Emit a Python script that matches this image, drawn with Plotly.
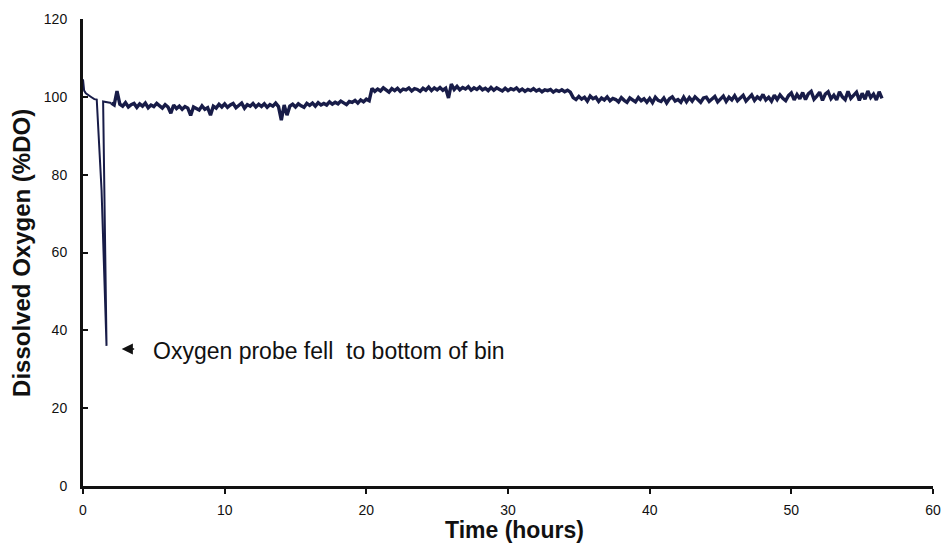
import plotly.graph_objects as go

# Probe record: first hour plus the moment the probe dropped to the bin floor
lead_hours = [0.0, 0.08, 0.2, 0.4, 0.6, 0.8, 0.97, 1.31, 1.66, 1.42, 1.75]
lead_do = [104.5, 101.6, 100.9, 100.3, 99.9, 99.4, 99.3, 76.0, 36.0, 98.8, 98.6]

# Logged readings every 12 minutes from hour 2 onward (%DO), one row per hour
record_start = 2.0
record_step = 0.2
do_readings = [
    98.4, 97.9, 101.5, 98.1, 97.6,     # 2
    98.5, 97.4, 98.0, 98.3, 97.3,      # 3
    98.2, 97.6, 98.4, 97.2, 97.9,      # 4
    97.5, 98.3, 97.6, 97.1, 98.0,      # 5
    97.4, 95.8, 97.9, 97.0, 97.6,      # 6
    96.8, 97.5, 97.1, 95.2, 97.4,      # 7
    97.0, 96.6, 97.7, 96.8, 97.2,      # 8
    95.3, 97.6, 97.1, 98.1, 97.4,      # 9
    98.2, 97.3, 97.9, 98.3, 97.2,      # 10
    97.8, 98.4, 97.1, 98.0, 97.6,      # 11
    98.3, 97.4, 98.1, 97.5, 98.2,      # 12
    97.3, 98.0, 97.6, 98.4, 97.5,      # 13
    94.0, 97.9, 95.3, 97.6, 98.1,      # 14
    97.4, 98.2, 97.7, 97.3, 98.3,      # 15
    97.8, 98.4, 97.6, 98.5, 97.9,      # 16
    98.3, 97.9, 98.7, 98.1, 98.6,      # 17
    98.2, 98.9, 98.4, 98.0, 98.8,      # 18
    98.6, 99.1, 98.4, 99.2, 98.7,      # 19
    99.4, 99.0, 102.2, 101.4, 102.0,   # 20
    101.5, 102.3, 101.7, 101.2, 102.1, # 21
    101.6, 102.2, 101.4, 102.0, 101.8, # 22
    102.3, 101.5, 102.1, 101.9, 101.4, # 23
    102.2, 101.7, 102.5, 101.6, 102.3, # 24
    101.8, 102.4, 101.7, 102.2, 99.7,  # 25
    103.3, 101.9, 102.7, 101.8, 102.4, # 26
    102.0, 102.6, 101.7, 102.3, 101.9, # 27
    102.5, 101.8, 102.2, 101.6, 102.4, # 28
    101.7, 102.3, 101.9, 101.5, 102.2, # 29
    101.6, 102.1, 101.8, 102.3, 101.5, # 30
    102.0, 101.4, 101.9, 101.6, 102.1, # 31
    101.5, 101.9, 101.3, 101.8, 101.6, # 32
    101.9, 101.2, 101.7, 101.4, 101.8, # 33
    101.3, 101.7, 101.2, 99.8, 99.3,   # 34
    100.1, 99.4, 99.9, 98.9, 100.2,    # 35
    99.5, 99.9, 98.8, 99.7, 99.2,      # 36
    100.0, 99.0, 99.6, 99.3, 98.7,     # 37
    99.8, 99.1, 98.6, 99.7, 99.2,      # 38
    98.7, 99.8, 99.0, 99.5, 98.6,      # 39
    99.6, 98.5, 99.9, 99.1, 98.8,      # 40
    99.7, 98.4, 99.5, 100.0, 98.9,     # 41
    99.3, 98.6, 99.9, 98.7, 99.8,      # 42
    98.9, 100.0, 99.2, 98.6, 99.7,     # 43
    99.9, 98.8, 99.4, 100.1, 98.7,     # 44
    99.5, 100.2, 98.8, 99.9, 99.2,     # 45
    100.3, 99.0, 99.7, 100.4, 98.9,    # 46
    99.8, 100.5, 99.1, 100.0, 99.4,    # 47
    100.6, 99.2, 99.9, 98.9, 100.4,    # 48
    99.3, 100.5, 99.6, 99.0, 100.3,    # 49
    101.0, 99.2, 100.6, 99.5, 101.1,   # 50
    99.3, 100.8, 101.4, 99.4, 100.2,   # 51
    101.2, 99.1, 100.7, 101.3, 99.5,   # 52
    100.4, 99.2, 101.3, 100.0, 99.3,   # 53
    101.4, 99.6, 100.5, 101.2, 99.1,   # 54
    100.9, 99.4, 101.5, 99.8, 100.7,   # 55
    99.2, 101.3, 99.6,                 # 56
]

x_ticks = [0, 10, 20, 30, 40, 50, 60]
y_ticks = [0, 20, 40, 60, 80, 100, 120]

note_text = "Oxygen probe fell\u00a0 to bottom of bin"
note_hours, note_do = 2.73, 35.2

reading_hours = [record_start + record_step * i for i in range(len(do_readings))]

line_color = "#181c48"
ink = "#111111"
family = "Liberation Sans, Arial, sans-serif"
tick_font = dict(family=family, size=14, color=ink)

fig = go.Figure()
# Opening stretch and the probe drop, drawn with a finer pen and joined to the first logged reading
fig.add_trace(go.Scatter(
    x=lead_hours + reading_hours[:1], y=lead_do + do_readings[:1], mode="lines",
    line=dict(color=line_color, width=2),
    hoverinfo="skip", showlegend=False,
))
# Continuous logged record
fig.add_trace(go.Scatter(
    x=reading_hours, y=do_readings, mode="lines",
    line=dict(color=line_color, width=3.4),
    hoverinfo="skip", showlegend=False,
))

fig.update_layout(
    width=952, height=546,
    margin=dict(l=83, r=12, t=11, b=60),
    paper_bgcolor="white", plot_bgcolor="white",
    showlegend=False,
    xaxis=dict(
        range=[0, 60], tickvals=x_ticks, ticktext=[str(v) for v in x_ticks],
        showgrid=False, zeroline=False,
        showline=True, linecolor=ink, linewidth=3,
        ticks="outside", ticklen=5, tickwidth=2, tickcolor=ink,
        tickfont=tick_font, ticklabelstandoff=4,
    ),
    yaxis=dict(
        range=[0, 120], tickvals=y_ticks, ticktext=[str(v) for v in y_ticks],
        showgrid=False, zeroline=False,
        showline=True, linecolor=ink, linewidth=3,
        ticks="inside", ticklen=5, tickwidth=2, tickcolor=ink,
        tickfont=tick_font, ticklabelstandoff=10,
    ),
    annotations=[
        dict(
            x=note_hours, y=note_do, xref="x", yref="y",
            text="", showarrow=True, ax=14, ay=0,
            arrowhead=2, arrowsize=1.4, arrowwidth=1.6, arrowcolor=ink,
        ),
        dict(
            x=4.8, y=34.8, xref="x", yref="y",
            text=note_text, showarrow=False, xanchor="left", yanchor="middle",
            font=dict(family=family, size=23, color=ink),
        ),
        dict(
            x=0.508, y=-0.094, xref="paper", yref="paper",
            text="Time (hours)", showarrow=False, xanchor="center", yanchor="middle",
            font=dict(family=family, size=23, color=ink, weight="bold"),
        ),
        dict(
            x=-0.0725, y=0.5, xref="paper", yref="paper",
            text="Dissolved Oxygen (%DO)", showarrow=False, textangle=-90,
            xanchor="center", yanchor="middle",
            font=dict(family=family, size=24, color=ink, weight="bold"),
        ),
    ],
)

fig.write_html("out.html")
